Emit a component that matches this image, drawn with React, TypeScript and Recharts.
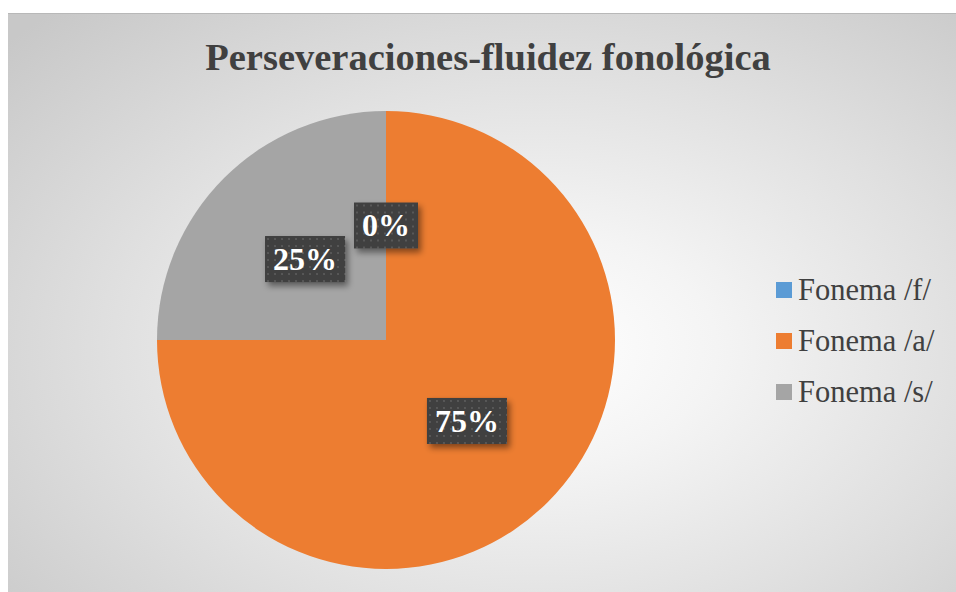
import React from "react";
import { PieChart, Pie, Cell, Legend } from "recharts";

const title = "Perseveraciones-fluidez fonológica";
const categories = ["Fonema /f/", "Fonema /a/", "Fonema /s/"];
const values = [0, 3, 1];
const colors = ["#5B9BD5", "#ED7D31", "#A5A5A5"];

const data = categories.map((name, i) => ({ name, value: values[i] }));
const total = values.reduce((a, b) => a + b, 0);

const RAD = Math.PI / 180;
const LABEL_FS = 32;

const renderLabel = (props: any) => {
  const { cx, cy, midAngle, outerRadius, value, index } = props;
  const r = outerRadius * 0.5;
  const x = cx + r * Math.cos(-midAngle * RAD);
  const y = cy + r * Math.sin(-midAngle * RAD);
  const txt = `${Math.round((value / total) * 100)}%`;
  const digits = txt.length - 1;
  const tw = digits * 0.5 * LABEL_FS + LABEL_FS;
  const w = tw + 16;
  const h = 46;
  const pid = `dots${index}`;
  const fid = `shadow${index}`;
  return (
    <g key={`lbl${index}`}>
      <defs>
        <pattern id={pid} x={x - w / 2} y={y - h / 2} width="7" height="7" patternUnits="userSpaceOnUse">
          <rect width="7" height="7" fill="#3f3f3f" />
          <rect x="2" y="2" width="2" height="2" fill="#585858" />
        </pattern>
        <filter id={fid} x="-30%" y="-30%" width="160%" height="170%">
          <feDropShadow dx="3" dy="4" stdDeviation="3" floodColor="#000" floodOpacity="0.45" />
        </filter>
      </defs>
      <rect x={x - w / 2} y={y - h / 2} width={w} height={h} fill={`url(#${pid})`} filter={`url(#${fid})`} />
      <text
        x={x}
        y={y + LABEL_FS * 0.34}
        textAnchor="middle"
        fill="#ffffff"
        fontFamily="'Liberation Serif', 'Times New Roman', serif"
        fontWeight="bold"
        fontSize={LABEL_FS}
      >
        {txt}
      </text>
    </g>
  );
};

const renderLegend = () => {
  return (
    <div>
      {categories.map((name, i) => (
        <div key={name} style={{ display: "flex", alignItems: "center", height: 51 }}>
          <div style={{ width: 16, height: 16, background: colors[i], marginRight: 6 }} />
          <span
            style={{
              fontFamily: "'Liberation Serif', 'Times New Roman', serif",
              fontSize: 30.5,
              color: "#404040",
              lineHeight: "30px",
            }}
          >
            {name}
          </span>
        </div>
      ))}
    </div>
  );
};

export default function App() {
  return (
    <div
      style={{
        position: "absolute",
        left: 8,
        top: 13,
        width: 948,
        height: 579,
        overflow: "hidden",
        background:
          "radial-gradient(ellipse 75% 80% at 56% 58%, #ffffff 0%, #f4f4f4 25%, #e0e0e0 60%, #c8c8c8 100%)",
        borderTop: "1px solid #b8b8b8",
        boxSizing: "border-box",
      }}
    >
      <div
        style={{
          position: "absolute",
          left: 0,
          width: 960,
          top: 22,
          textAlign: "center",
          fontFamily: "'Liberation Serif', 'Times New Roman', serif",
          fontWeight: "bold",
          fontSize: 38.5,
          color: "#404040",
          lineHeight: "42px",
        }}
      >
        {title}
      </div>
      <PieChart width={948} height={578} style={{ position: "absolute", left: 0, top: 0 }}>
        <Pie
          data={data}
          dataKey="value"
          nameKey="name"
          cx={373}
          cy={321}
          outerRadius={229}
          startAngle={90}
          endAngle={-270}
          stroke="none"
          isAnimationActive={false}
          labelLine={false}
          label={renderLabel}
        >
          {data.map((d, i) => (
            <Cell key={d.name} fill={colors[i]} />
          ))}
        </Pie>
        <Legend
          layout="vertical"
          verticalAlign="middle"
          align="right"
          content={renderLegend}
          wrapperStyle={{ position: "absolute", left: 768, right: "auto", top: 250, width: 180 }}
        />
      </PieChart>
    </div>
  );
}
